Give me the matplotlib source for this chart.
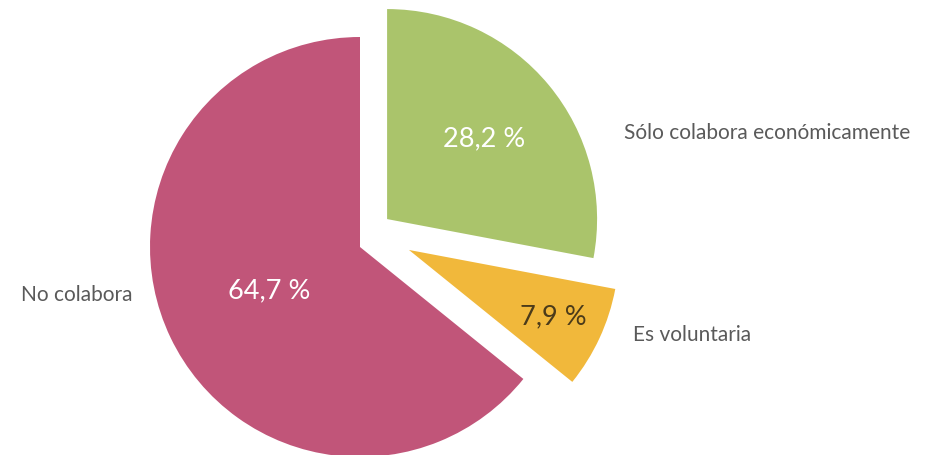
import matplotlib
matplotlib.use('Agg')
import matplotlib.pyplot as plt
import numpy as np

categories = ['Sólo colabora económicamente', 'Es voluntaria', 'No colabora']
values = [28.2, 7.9, 64.7]
pct_labels = ['28,2 %', '7,9 %', '64,7 %']

colors = ['#AAC46B', '#F1B83B', '#C15579']
pct_colors = ['white', '#4B3B1A', 'white']
# wedge displacement in pie-radius units (x, y)
offsets = [(0.129, 0.133), (0.233, -0.014), (0.0, 0.0)]
pct_dist = [0.6, 0.76, 0.48]
label_pos = [(1.257, 0.543, 'left'), (1.300, -0.419, 'left'), (-1.081, -0.229, 'right')]

plt.rcParams['font.family'] = ['Lato', 'DejaVu Sans']

fig = plt.figure(figsize=(9.28, 4.55), dpi=100)
ax = fig.add_axes([0, 0, 1, 1])
wedges, _ = ax.pie(values, colors=colors, startangle=90, counterclock=False,
                   radius=1.0, wedgeprops=dict(linewidth=0))
for w, (ox, oy), txt, tc, d in zip(wedges, offsets, pct_labels, pct_colors, pct_dist):
    w.set_center((ox, oy))
    mid = np.deg2rad((w.theta1 + w.theta2) / 2)
    ax.text(ox + d * np.cos(mid), oy + d * np.sin(mid), txt, color=tc,
            fontsize=19.5, ha='center', va='center')
for cat, (x, y, ha) in zip(categories, label_pos):
    ax.text(x, y, cat, color='#5A5A5A', fontsize=15, ha=ha, va='center')

ax.set_aspect('auto')
ax.set_xlim(-360 / 210, (928 - 360) / 210)
ax.set_ylim(-(455 - 247) / 210, 247 / 210)
ax.axis('off')
fig.savefig('out.png', dpi=100)
